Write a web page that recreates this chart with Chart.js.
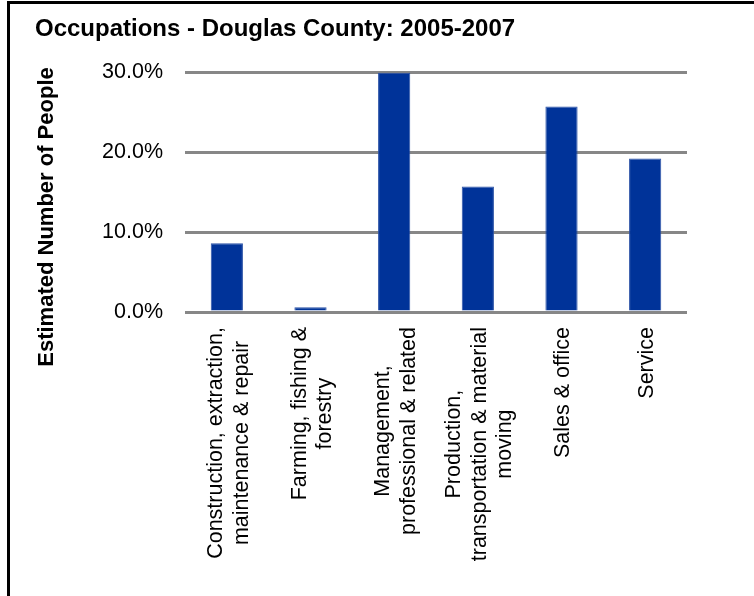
<!DOCTYPE html>
<html>
<head>
<meta charset="utf-8">
<title>Occupations - Douglas County: 2005-2007</title>
<script src="https://cdn.jsdelivr.net/npm/chart.js@4.4.0/dist/chart.umd.min.js"></script>
<style>
    body { margin: 0; overflow: hidden; background: #fff; }
    #wrap { position: relative; width: 754px; height: 596px; overflow: hidden; }
    #frame { position: absolute; left: 7px; top: 1px; width: 900px; height: 900px; border-left: 3px solid #000; border-top: 3px solid #000; }
    #myChart { position: absolute; left: 0; top: 0; }
</style>
</head>
<body>
<div id="wrap">
    <div id="frame"></div>
    <canvas id="myChart" width="754" height="596"></canvas>
</div>
<script>
var chartTitle = 'Occupations - Douglas County: 2005-2007';
var yTitle = 'Estimated Number of People';
var categories = [
    ['Construction, extraction,', 'maintenance & repair'],
    ['Farming, fishing &', 'forestry'],
    ['Management,', 'professional & related'],
    ['Production,', 'transportation & material', 'moving'],
    ['Sales & office'],
    ['Service']
];
var percents = [8.6, 0.6, 29.9, 15.7, 25.7, 19.2];
var yTicks = [0, 10, 20, 30];

var fontFamily = '"Liberation Sans", Arial, Helvetica, sans-serif';

// 標題, 縱軸標題, 橫軸文字
var textPlugin = {
    id: 'textPlugin',
    afterDraw: function (chart) {
        var ctx = chart.ctx;
        var x = chart.scales.x;

        ctx.save();
        ctx.fillStyle = '#000';
        ctx.font = 'bold 24px ' + fontFamily;
        ctx.textAlign = 'left';
        ctx.textBaseline = 'alphabetic';
        ctx.fillText(chartTitle, 35, 36);

        ctx.translate(47, 217);
        ctx.rotate(-Math.PI / 2);
        ctx.font = 'bold 22px ' + fontFamily;
        ctx.textAlign = 'center';
        ctx.textBaseline = 'middle';
        ctx.fillText(yTitle, 0, 0);
        ctx.restore();

        ctx.save();
        ctx.fillStyle = '#000';
        ctx.font = '21.5px ' + fontFamily;
        ctx.textAlign = 'center';
        ctx.textBaseline = 'middle';
        var lh = 25.5;
        categories.forEach(function (lines, i) {
            var maxW = 0;
            lines.forEach(function (l) {
                maxW = Math.max(maxW, ctx.measureText(l).width);
            });
            ctx.save();
            ctx.translate(x.getPixelForValue(i) + 2, 327 + maxW / 2);
            ctx.rotate(-Math.PI / 2);
            for (var k = 0; k != lines.length; k++) {
                ctx.fillText(lines[k], 0, (k - (lines.length - 1) / 2) * lh);
            }
            ctx.restore();
        });
        ctx.restore();
    }
};

var config = {
    type: 'bar',
    data: {
        labels: categories,
        datasets: [{
            data: percents,
            backgroundColor: '#003399',
            borderColor: '#2b52a6',
            borderWidth: 1,
            borderSkipped: 'bottom',
            categoryPercentage: 1,
            barPercentage: 0.385
        }]
    },
    options: {
        responsive: false,
        animation: false,
        layout: { padding: { top: 72, right: 67, left: 0, bottom: 0 } },
        plugins: {
            legend: { display: false },
            title: { display: false },
            tooltip: { enabled: false }
        },
        scales: {
            x: {
                grid: { display: false },
                border: { display: false },
                ticks: { display: false },
                afterFit: function (scale) { scale.height = 596 - 312; }
            },
            y: {
                min: 0,
                max: 30,
                afterBuildTicks: function (scale) {
                    scale.ticks = yTicks.map(function (v) { return { value: v }; });
                },
                afterFit: function (scale) { scale.width = 185; },
                border: { display: false },
                grid: { color: '#878787', lineWidth: 3, drawTicks: false },
                ticks: {
                    padding: 22,
                    color: '#000',
                    font: { family: fontFamily, size: 21.5 },
                    callback: function (v) { return v.toFixed(1) + '%'; }
                }
            }
        }
    },
    plugins: [textPlugin]
};

var chart = new Chart(document.getElementById('myChart'), config);
</script>
</body>
</html>
